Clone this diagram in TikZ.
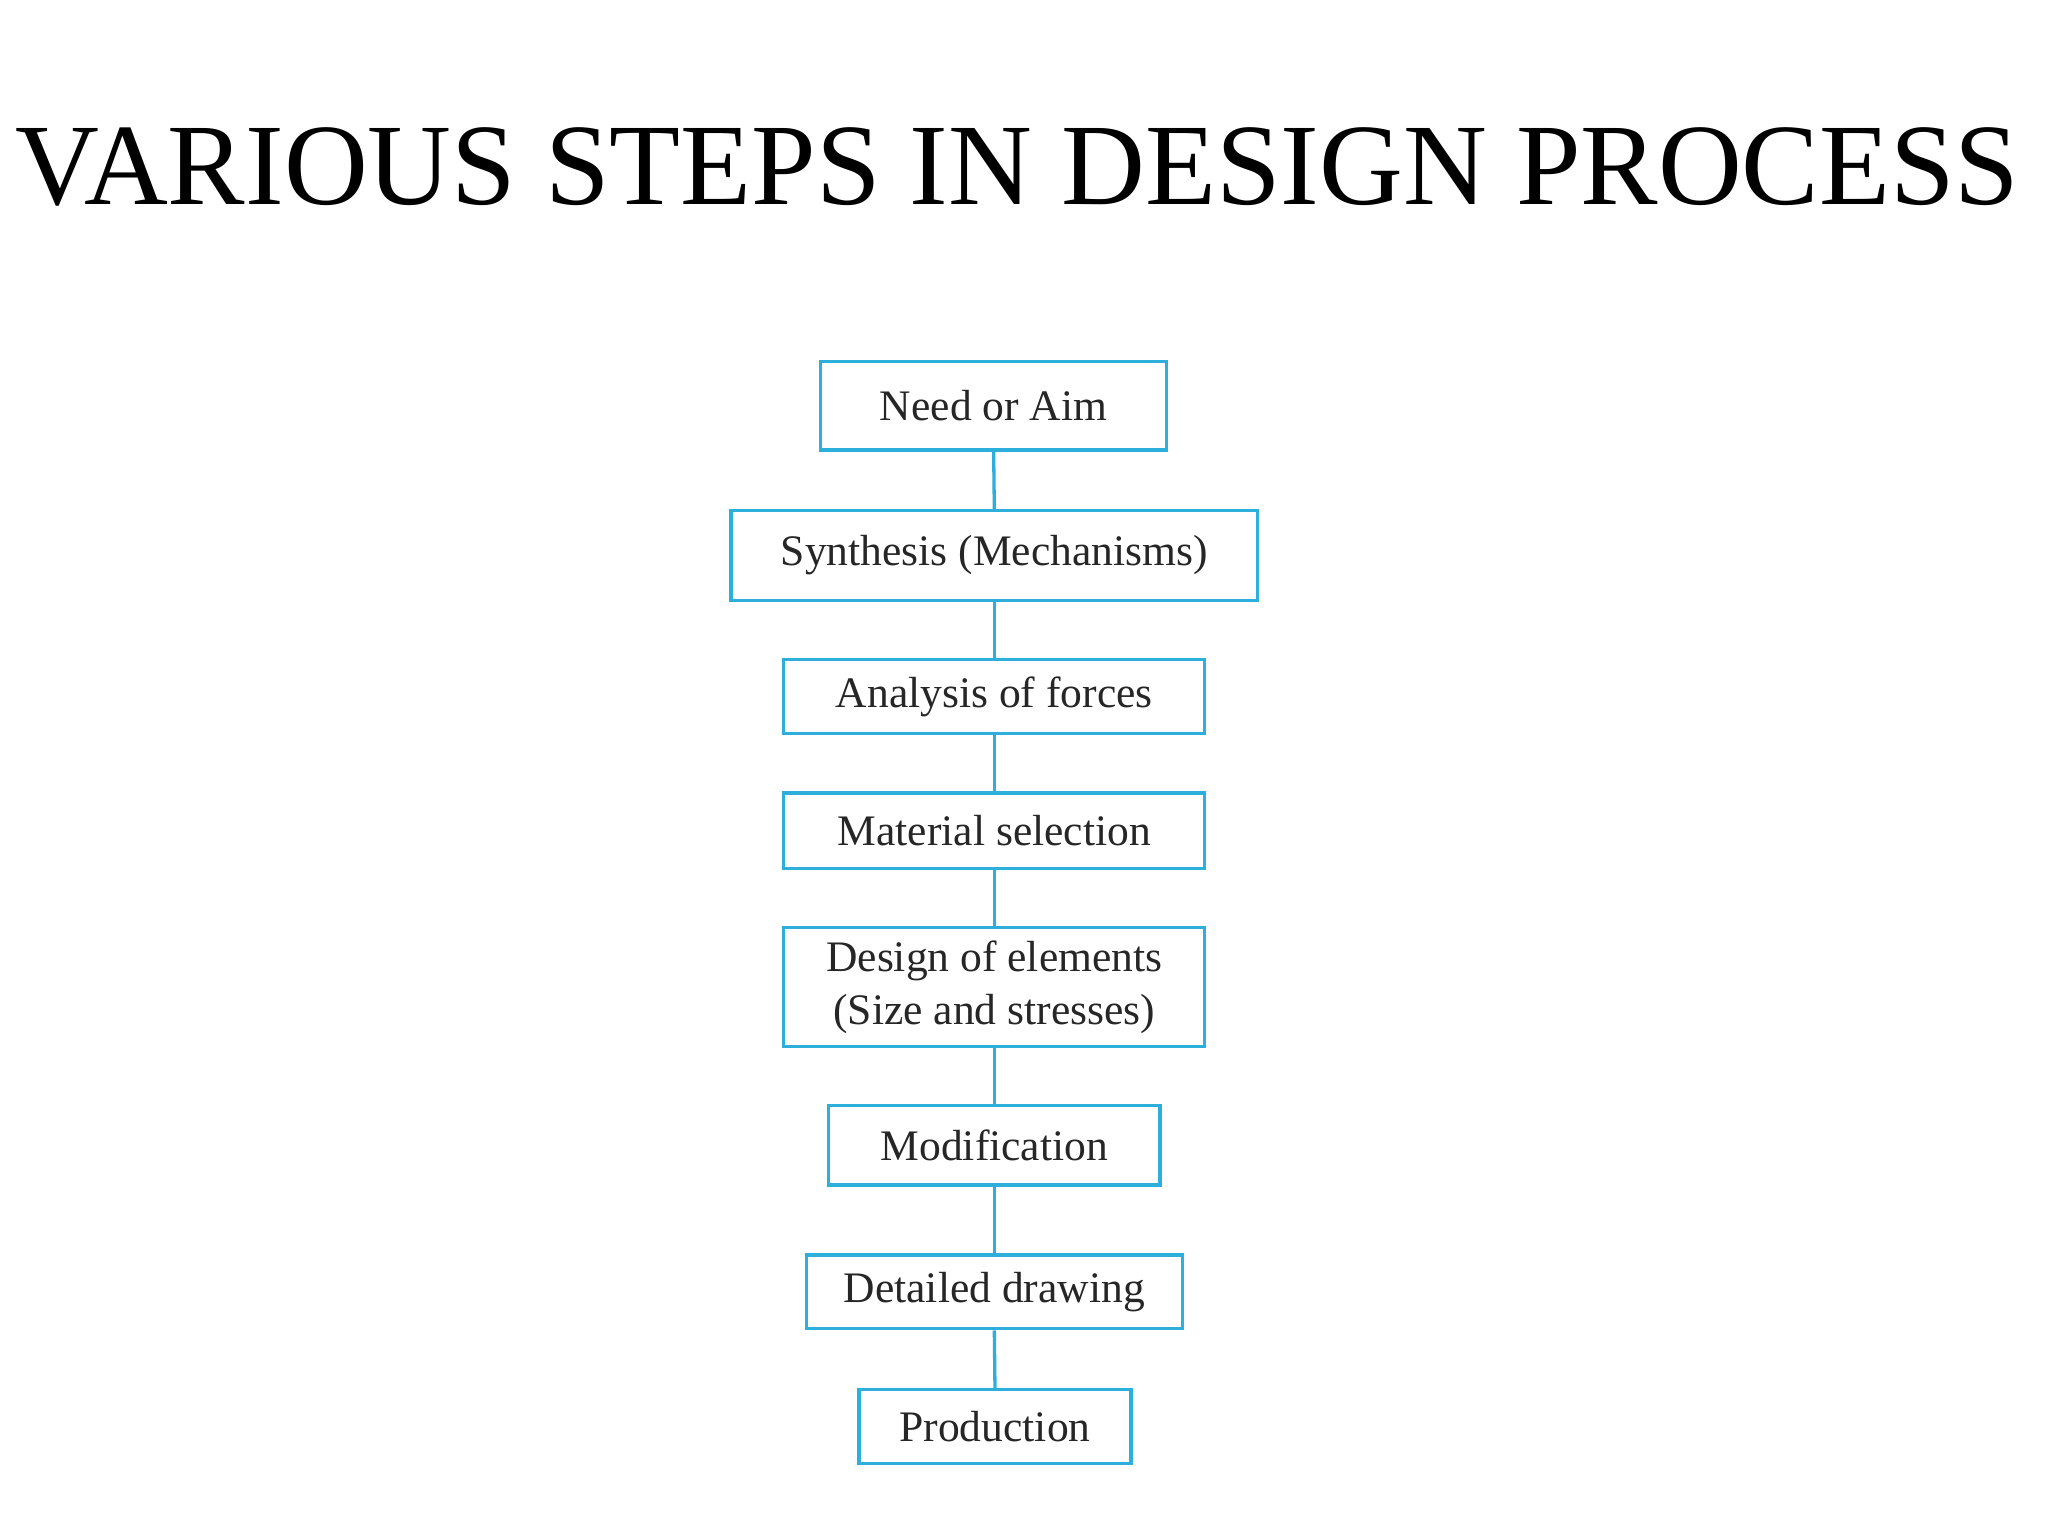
\documentclass[tikz,border=0pt]{standalone}
\usepackage{fontspec}
\setmainfont{Liberation Serif}
\definecolor{bx}{RGB}{45,175,220}
\begin{document}
\begin{tikzpicture}[x=1pt,y=-1pt,
  stepbox/.style={draw=bx,line width=2.5pt,inner sep=0pt,font=\fontsize{33}{40}\selectfont,text=black!85,align=center},
  link/.style={draw=bx,line width=2.5pt}]
\useasboundingbox[fill=white] (0,0) rectangle (1552,1164);
\node[anchor=base,font=\fontsize{88}{100}\selectfont] (title) at (771,155) {VARIOUS STEPS IN DESIGN PROCESS};
\newcommand\bxn[6]{\node[stepbox,minimum width=#3-#2,minimum height=#5-#4] (#1) at ({(#2+#3)/2},{(#4+#5)/2}) {#6};}
\bxn{a}{622}{884}{274}{341}{Need or Aim}
\bxn{b}{554}{953}{387}{455}{Synthesis (Mechanisms)}
\bxn{c}{594}{913}{500}{556}{Analysis of forces}
\bxn{d}{594}{913}{601}{658}{Material selection}
\bxn{e}{594}{913}{703}{793}{Design of elements\\(Size and stresses)}
\bxn{f}{628}{879}{838}{898}{Modification}
\bxn{g}{611}{896}{951}{1007}{Detailed drawing}
\bxn{h}{651}{857}{1053}{1109}{Production}
\foreach \u/\v in {a/b,b/c,c/d,d/e,e/f,f/g,g/h} \draw[link] (\u.south) -- (\v.north);
\end{tikzpicture}
\end{document}
